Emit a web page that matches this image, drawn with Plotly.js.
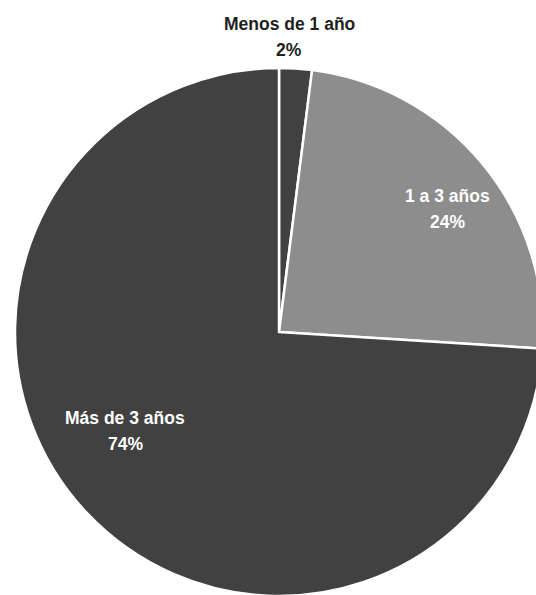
<!DOCTYPE html>
<html>
<head>
<meta charset="utf-8">
<script src="https://cdn.plot.ly/plotly-3.0.1.min.js"></script>
<style>
  html, body { margin: 0; padding: 0; overflow: hidden; background: #ffffff; width: 536px; height: 595px; }
  #chart { width: 600px; height: 700px; }
</style>
</head>
<body>
<div id="chart"></div>
<script>
const labels = ['Menos de 1 año', '1 a 3 años', 'Más de 3 años'];
const values = [2, 24, 74];
const colors = ['#414141', '#8d8d8d', '#414141'];

const W = 600, H = 700;
const cx = 279, cy = 332, r = 264;

// label anchor points in page pixels (centre of the name line), text colour
const labelPos = [
  { x: 289, y: 24, color: '#1f1f1f' },
  { x: 447, y: 196, color: '#ffffff' },
  { x: 125, y: 418, color: '#ffffff' }
];
const lineGap = 26;
const fontFamily = 'Liberation Sans, Arial, sans-serif';
const fontSize = 17.5;

const total = values.reduce((a, b) => a + b, 0);
const annotations = [];
labels.forEach((lab, i) => {
  const p = labelPos[i];
  const pct = Math.round(values[i] / total * 100) + '%';
  [lab, pct].forEach((t, j) => {
    annotations.push({
      xref: 'paper', yref: 'paper',
      x: p.x / W, y: 1 - (p.y + j * lineGap) / H,
      xanchor: 'center', yanchor: 'middle',
      text: '<b>' + t + '</b>',
      showarrow: false,
      font: { family: fontFamily, size: fontSize, color: p.color }
    });
  });
});

Plotly.newPlot('chart', [{
  type: 'pie',
  labels: labels,
  values: values,
  sort: false,
  direction: 'clockwise',
  rotation: 0,
  marker: { colors: colors, line: { color: '#ffffff', width: 2.5 } },
  textinfo: 'none',
  hoverinfo: 'label+percent',
  showlegend: false,
  domain: {
    x: [(cx - r) / W, (cx + r) / W],
    y: [1 - (cy + r) / H, 1 - (cy - r) / H]
  }
}], {
  width: W,
  height: H,
  margin: { l: 0, r: 0, t: 0, b: 0 },
  paper_bgcolor: '#ffffff',
  showlegend: false,
  annotations: annotations
}, { displayModeBar: false, staticPlot: true });
</script>
</body>
</html>
